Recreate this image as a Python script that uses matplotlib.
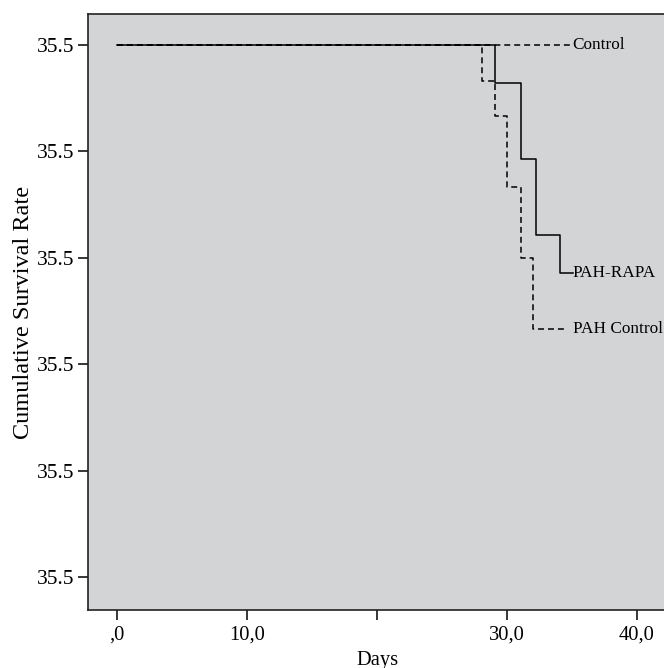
import matplotlib
matplotlib.use("Agg")
import matplotlib.pyplot as plt

plt.rcParams['font.family'] = ['Liberation Serif', 'DejaVu Serif']

# Data
control_t = [0, 35.0]
control_s = [1.0, 1.0]
rapa_t = [0, 29.08, 31.05, 32.2, 34.1, 35.05]
rapa_s = [1.0, 0.929, 0.786, 0.643, 0.571, 0.571]
pahc_t = [0, 28.05, 29.08, 30.0, 31.05, 32.02, 34.5]
pahc_s = [1.0, 0.933, 0.867, 0.733, 0.600, 0.467, 0.467]

x_ticks = [0, 10, 20, 30, 40]
x_labels = [',0', '10,0', '', '30,0', '40,0']
y_ticks = [0.0, 0.2, 0.4, 0.6, 0.8, 1.0]
y_labels = ['35.5'] * 6

fig = plt.figure(figsize=(6.64, 6.68), dpi=100)
ax = fig.add_axes([88/664, 58/668, 580/664, 596/668])
ax.set_facecolor('#d3d4d6')

dash = (0, (3.9, 2.6))
lw = 1.1
ax.step(control_t, control_s, where='post', color='black', lw=lw, linestyle=dash)
ax.step(pahc_t, pahc_s, where='post', color='black', lw=lw, linestyle=dash)
ax.step(rapa_t, rapa_s, where='post', color='black', lw=lw, linestyle='-')

fs_lab = 12.4
ax.text(35.05, control_s[-1], 'Control', fontsize=fs_lab, va='center', ha='left')
ax.text(35.05, rapa_s[-1], 'PAH-RAPA', fontsize=fs_lab, va='center', ha='left')
ax.text(35.05, pahc_s[-1], 'PAH Control', fontsize=fs_lab, va='center', ha='left')

ax.set_xlim(-29/13, 551/13)
ax.set_ylim(1 - 565/532, 1 + 31/532)
ax.set_xticks(x_ticks)
ax.set_xticklabels(x_labels)
ax.set_yticks(y_ticks)
ax.set_yticklabels(y_labels)
ax.tick_params(axis='both', direction='out', length=7.5, width=1.1, colors='black')
ax.tick_params(axis='x', pad=3.5, labelsize=14.8)
ax.tick_params(axis='y', pad=2.5, labelsize=15.5)
for s in ['left', 'top', 'bottom', 'right']:
    ax.spines[s].set_linewidth(1.2)
    ax.spines[s].set_color('#222222')

ax.set_xlabel('Days', fontsize=14.8, labelpad=4.5)
ax.set_ylabel('Cumulative Survival Rate', fontsize=17.5, labelpad=2)

fig.savefig('out.png', dpi=100, facecolor='white')
